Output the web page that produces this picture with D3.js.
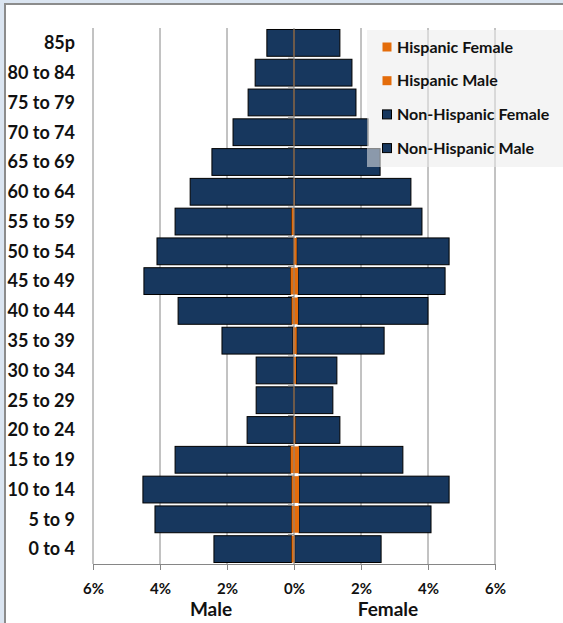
<!DOCTYPE html>
<html>
<head>
<meta charset="utf-8">
<script src="https://cdn.jsdelivr.net/npm/d3@7"></script>
<style>
  body { margin: 0; background: #dbe5f1; }
  svg { display: block; font-family: Lato, "Open Sans", sans-serif; font-weight: bold; }
</style>
</head>
<body>
<div id="chart"></div>
<script>
// age groups, top to bottom
var ages = ["85p", "80 to 84", "75 to 79", "70 to 74", "65 to 69", "60 to 64", "55 to 59",
  "50 to 54", "45 to 49", "40 to 44", "35 to 39", "30 to 34", "25 to 29", "20 to 24",
  "15 to 19", "10 to 14", "5 to 9", "0 to 4"];

// percent of population
var hispMale   = [0.01, 0.01, 0.01, 0.01, 0.01, 0.01, 0.07, 0.01, 0.10, 0.07, 0.03, 0.01, 0.01, 0.01, 0.10, 0.07, 0.07, 0.07];
var hispFemale = [0.01, 0.01, 0.01, 0.01, 0.01, 0.02, 0.01, 0.08, 0.12, 0.12, 0.08, 0.06, 0.01, 0.04, 0.15, 0.15, 0.15, 0.02];
var nonHispMale   = [0.80, 1.15, 1.36, 1.81, 2.44, 3.09, 3.48, 4.08, 4.38, 3.39, 2.12, 1.12, 1.12, 1.39, 3.45, 4.44, 4.08, 2.32];
var nonHispFemale = [1.36, 1.72, 1.84, 2.20, 2.56, 3.47, 3.81, 4.55, 4.39, 3.88, 2.61, 1.22, 1.15, 1.33, 3.10, 4.48, 3.94, 2.58];

var ticks = [-6, -4, -2, 0, 2, 4, 6];
var legendNames = ["Hispanic Female", "Hispanic Male", "Non-Hispanic Female", "Non-Hispanic Male"];

var navy = "#17375e", orange = "#e46c0a", grid = "#868686";

var W = 563, H = 623;
var svg = d3.select("#chart").append("svg")
  .attr("width", W)
  .attr("height", H);

// chart area frame
svg.append("rect")
  .attr("x", 5).attr("y", 4)
  .attr("width", W).attr("height", H)
  .attr("fill", "#fff")
  .attr("stroke", "#8c8c8c")
  .attr("stroke-width", 2);

var x = d3.scaleLinear().domain([-6, 6]).range([93, 495]);
var y = d3.scaleBand().domain(ages).range([28, 564]).paddingInner(0.1).paddingOuter(0.05);
var yb = d3.scaleBand().domain(ages).range([28, 564]);

// gridlines
svg.append("g")
  .selectAll("line")
  .data(ticks.filter(function(d) { return d != 0; }))
  .enter().append("line")
  .attr("x1", function(d) { return x(d); })
  .attr("x2", function(d) { return x(d); })
  .attr("y1", 28).attr("y2", 564)
  .attr("stroke", grid);

var rows = ages.map(function(a, i) {
  return { age: a, hm: hispMale[i], hf: hispFemale[i], nm: nonHispMale[i], nf: nonHispFemale[i] };
});

var bars = svg.append("g");

// non-hispanic stacked outside the hispanic part
bars.selectAll("rect.nm")
  .data(rows)
  .enter().append("rect")
  .attr("class", "nm")
  .attr("x", function(d) { return x(-(d.hm + d.nm)); })
  .attr("width", function(d) { return x(-d.hm) - x(-(d.hm + d.nm)); })
  .attr("y", function(d) { return y(d.age); })
  .attr("height", y.bandwidth())
  .attr("fill", navy).attr("stroke", "#000");

bars.selectAll("rect.nf")
  .data(rows)
  .enter().append("rect")
  .attr("class", "nf")
  .attr("x", function(d) { return x(d.hf); })
  .attr("width", function(d) { return x(d.hf + d.nf) - x(d.hf); })
  .attr("y", function(d) { return y(d.age); })
  .attr("height", y.bandwidth())
  .attr("fill", navy).attr("stroke", "#000");

bars.selectAll("rect.hm")
  .data(rows)
  .enter().append("rect")
  .attr("class", "hm")
  .attr("x", function(d) { return x(-d.hm); })
  .attr("width", function(d) { return x(0) - x(-d.hm); })
  .attr("y", function(d) { return y(d.age); })
  .attr("height", y.bandwidth())
  .attr("fill", orange);

bars.selectAll("rect.hf")
  .data(rows)
  .enter().append("rect")
  .attr("class", "hf")
  .attr("x", x(0))
  .attr("width", function(d) { return x(d.hf) - x(0); })
  .attr("y", function(d) { return y(d.age); })
  .attr("height", y.bandwidth())
  .attr("fill", orange);

// category axis at 0
svg.append("line")
  .attr("x1", x(0)).attr("x2", x(0))
  .attr("y1", 28).attr("y2", 564)
  .attr("stroke", grid);
svg.append("g")
  .selectAll("line")
  .data(ages.slice(1))
  .enter().append("line")
  .attr("x1", x(0) - 6).attr("x2", x(0))
  .attr("y1", function(d) { return yb(d) + 0.5; })
  .attr("y2", function(d) { return yb(d) + 0.5; })
  .attr("stroke", grid);

// category labels
svg.append("g")
  .selectAll("text")
  .data(ages)
  .enter().append("text")
  .attr("x", 75)
  .attr("y", function(d) { return yb(d) + yb.bandwidth() / 2; })
  .attr("dy", "0.35em")
  .attr("text-anchor", "end")
  .attr("font-size", 18)
  .attr("fill", "#111")
  .text(function(d) { return d; });

// bottom axis
var xAxis = svg.append("g")
  .attr("transform", "translate(0,564)")
  .call(d3.axisBottom(x).tickValues(ticks).tickSize(6).tickPadding(13)
    .tickFormat(function(d) { return Math.abs(d) + "%"; }));
xAxis.selectAll("line, path").attr("stroke", grid);
xAxis.select(".domain").attr("d", "M" + x(-6) + ",0.5H" + x(6));
xAxis.selectAll("text")
  .attr("font-size", 15)
  .attr("font-family", "Lato, sans-serif")
  .attr("font-weight", "bold")
  .attr("fill", "#111");

svg.append("text").attr("x", 211).attr("y", 616)
  .attr("text-anchor", "middle").attr("font-size", 19).attr("fill", "#111").text("Male");
svg.append("text").attr("x", 388).attr("y", 616)
  .attr("text-anchor", "middle").attr("font-size", 19).attr("fill", "#111").text("Female");

// legend (semi-transparent box)
svg.append("rect")
  .attr("x", 367).attr("y", 30)
  .attr("width", 200).attr("height", 137)
  .attr("fill", "#ebebeb").attr("fill-opacity", 0.55);

var legend = svg.append("g").selectAll("g")
  .data(legendNames)
  .enter().append("g")
  .attr("transform", function(d, i) { return "translate(382," + (47 + i * 33.7) + ")"; });

legend.append("rect")
  .attr("x", 0.5).attr("y", -4.5)
  .attr("width", 9).attr("height", 9)
  .attr("fill", function(d, i) { return i < 2 ? orange : navy; })
  .attr("stroke", function(d, i) { return i < 2 ? "none" : "#000"; });

legend.append("text")
  .attr("x", 15)
  .attr("dy", "0.35em")
  .attr("font-size", 16)
  .attr("fill", "#111")
  .text(function(d) { return d; });
</script>
</body>
</html>
